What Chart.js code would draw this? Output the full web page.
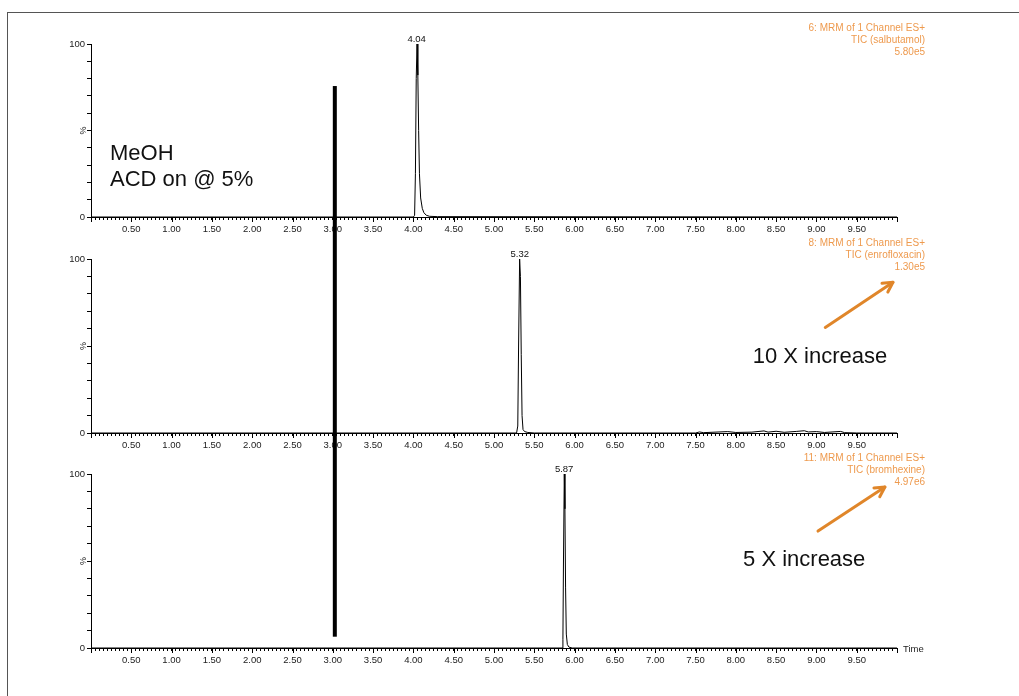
<!DOCTYPE html>
<html>
<head>
<meta charset="utf-8">
<script src="https://cdn.jsdelivr.net/npm/chart.js@4.4.1/dist/chart.umd.min.js"></script>
<style>
  html,body{margin:0;padding:0;background:#fff;}
  #wrap{position:relative;width:1019px;height:696px;overflow:hidden;}
  #frame{position:absolute;left:7px;top:12px;right:-10px;bottom:-10px;border-left:1.5px solid #555;border-top:1.5px solid #555;}
  canvas{position:absolute;left:0;top:0;}
</style>
</head>
<body>
<div id="wrap">
  <div id="frame"></div>
  <canvas id="c1" width="1019" height="696"></canvas>
  <canvas id="c2" width="1019" height="696"></canvas>
  <canvas id="c3" width="1019" height="696"></canvas>
  <canvas id="ov" width="1019" height="696"></canvas>
</div>
<script>
// ---------------- data ----------------
const salbutamolTime = [0.00, 4.000, 4.015, 4.025, 4.035, 4.045, 4.055, 4.065, 4.075, 4.090, 4.110, 4.130, 4.160, 4.200, 4.300, 10.00];
const salbutamolPct  = [0,    0,     1,     25,    80,    100,   82,    50,    25,    11,    5,     2.5,   1,     0.4,   0.2,   0];

const enrofloxacinTime = [0.00, 5.280, 5.295, 5.305, 5.318, 5.328, 5.338, 5.348, 5.360, 5.380, 5.420, 5.500,
                          7.50, 7.55, 7.60, 7.90, 8.00, 8.20, 8.35, 8.40, 8.50, 8.60, 8.75, 8.85, 8.90, 9.00, 9.10, 9.30, 9.35, 9.50, 10.00];
const enrofloxacinPct  = [0,    0,     4,     50,    100,   90,    45,    10,    2,     0.8,   0.3,   0,
                          0,    0.6,  0.2,  0.8,  0.3,  0.5,  1.2,  0.5,  1.0,  0.4,  0.9,  1.3,  0.6,  0.8,  0.3,  0.9,  0.2,  0,    0];

const bromhexineTime = [0.00, 5.845, 5.855, 5.862, 5.872, 5.880, 5.888, 5.897, 5.910, 5.930, 5.970, 10.00];
const bromhexinePct  = [0,    0,     5,     50,    100,   80,    35,    8,     2,     0.5,   0,     0];

const peakTimes  = [4.04, 5.32, 5.87];
const peakLabels = ["4.04", "5.32", "5.87"];
const channelHeaders = [
  ["6: MRM of 1 Channel ES+", "TIC (salbutamol)", "5.80e5"],
  ["8: MRM of 1 Channel ES+", "TIC (enrofloxacin)", "1.30e5"],
  ["11: MRM of 1 Channel ES+", "TIC (bromhexine)", "4.97e6"]
];
const yTickLabels = [0, 100];
const xLabelStep = 0.5;
const timeMin = 0, timeMax = 10;

// ---------------- helpers ----------------
const FONT = "'Liberation Sans', Arial, Helvetica, sans-serif";
const ORANGE_TEXT = '#ee9a4e';
const ORANGE_ARROW = '#e0862a';

const panelTops = [44, 259, 474];
const panelBottoms = [217, 433, 648];

function toPoints(ts, vs){ return ts.map((t,i)=>({x:t, y:vs[i]})); }

function panelPlugin(idx, showTime){
  return {
    id: 'panelDecor' + idx,
    afterDraw(chart){
      const ctx = chart.ctx, xs = chart.scales.x, ys = chart.scales.y, ca = chart.chartArea;
      ctx.save();
      // major x ticks
      ctx.strokeStyle = '#000'; ctx.lineWidth = 1;
      for (let v = timeMin; v <= timeMax + 1e-9; v += xLabelStep){
        const px = Math.round(xs.getPixelForValue(v)) + 0.5;
        ctx.beginPath(); ctx.moveTo(px, ca.bottom); ctx.lineTo(px, ca.bottom + 5); ctx.stroke();
      }
      // % label
      ctx.fillStyle = '#222';
      ctx.font = '9px ' + FONT;
      ctx.translate(ca.left - 7, ys.getPixelForValue(50));
      ctx.rotate(-Math.PI/2);
      ctx.textAlign = 'center'; ctx.textBaseline = 'middle';
      ctx.fillText('%', 0, 0);
      ctx.setTransform(1,0,0,1,0,0);
      // peak label
      ctx.font = '9.5px ' + FONT;
      ctx.fillStyle = '#111';
      ctx.textAlign = 'center'; ctx.textBaseline = 'alphabetic';
      ctx.fillText(peakLabels[idx], xs.getPixelForValue(peakTimes[idx]), ys.getPixelForValue(100) - 2);
      // channel header
      ctx.font = '10px ' + FONT;
      ctx.fillStyle = ORANGE_TEXT;
      ctx.textAlign = 'right';
      const hx = ca.right + 28;
      channelHeaders[idx].forEach((line, k) => {
        ctx.fillText(line, hx, ca.top - 13 + k * 12);
      });
      if (showTime){
        ctx.font = '9.5px ' + FONT;
        ctx.fillStyle = '#222';
        ctx.textAlign = 'left'; ctx.textBaseline = 'middle';
        ctx.fillText('Time', ca.right + 6, ca.bottom + 1);
      }
      ctx.restore();
    }
  };
}

function makePanel(id, idx, ts, vs, showTime){
  const top = panelTops[idx], bottom = panelBottoms[idx];
  return new Chart(document.getElementById(id), {
    type: 'line',
    data: { datasets: [{
      data: toPoints(ts, vs),
      borderColor: '#000', borderWidth: 1, pointRadius: 0, tension: 0, fill: false, clip: 8
    }]},
    options: {
      responsive: false, animation: false, devicePixelRatio: 1,
      layout: { padding: { left: 51, right: 122, top: top, bottom: 696 - bottom - 20 } },
      plugins: { legend: { display: false }, tooltip: { enabled: false } },
      events: [],
      scales: {
        x: {
          type: 'linear', min: timeMin, max: timeMax,
          afterFit: s => { s.height = 20; },
          border: { display: true, color: '#000', width: 1 },
          grid: { drawOnChartArea: false, drawTicks: true, tickLength: 3, color: '#000', lineWidth: 1 },
          ticks: {
            stepSize: 0.05, autoSkip: false, maxRotation: 0, minRotation: 0, padding: 4,
            color: '#222', font: { family: FONT, size: 9.5 },
            callback: v => {
              const r = Math.round(v * 100);
              if (r % Math.round(xLabelStep * 100) === 0 && r > timeMin * 100 && r < timeMax * 100) return (r / 100).toFixed(2);
              return '';
            }
          }
        },
        y: {
          type: 'linear', min: 0, max: 100,
          afterFit: s => { s.width = 40; },
          border: { display: true, color: '#000', width: 1 },
          grid: { drawOnChartArea: false, drawTicks: true, tickLength: 4, color: '#000', lineWidth: 1 },
          ticks: {
            stepSize: 10, padding: 2, color: '#222', font: { family: FONT, size: 9.5 },
            callback: v => yTickLabels.includes(v) ? String(v) : ''
          }
        }
      }
    },
    plugins: [panelPlugin(idx, showTime)]
  });
}

const ch1 = makePanel('c1', 0, salbutamolTime, salbutamolPct, false);
const ch2 = makePanel('c2', 1, enrofloxacinTime, enrofloxacinPct, false);
const ch3 = makePanel('c3', 2, bromhexineTime, bromhexinePct, true);

// ---------------- annotations (data coordinates) ----------------
const markerTime = 3.025, markerTopPct = 75.7, markerBottomPct = 6.5;
const noteLines = [
  { chart: ch1, text: 'MeOH',         t: 0.236, pct: 33.0 },
  { chart: ch1, text: 'ACD on @ 5%',  t: 0.236, pct: 18.0 },
  { chart: ch2, text: '10 X increase', t: 8.21, pct: 40.2 },
  { chart: ch3, text: '5 X increase',  t: 8.09, pct: 47.1 }
];
const arrows = [
  { chart: ch2, t0: 9.11, p0: 60.7, t1: 9.95, p1: 86.6 },
  { chart: ch3, t0: 9.02, p0: 67.2, t1: 9.85, p1: 92.5 }
];

const ov = document.getElementById('ov').getContext('2d');
function px(chart, t, p){ return [chart.scales.x.getPixelForValue(t), chart.scales.y.getPixelForValue(p)]; }

// thick marker line across the panels
const [mx, my0] = px(ch1, markerTime, markerTopPct);
const [, my1] = px(ch3, markerTime, markerBottomPct);
ov.fillStyle = '#000';
ov.fillRect(mx - 2, my0, 4, my1 - my0);

// text notes
ov.fillStyle = '#111';
ov.font = '22px ' + FONT;
ov.textAlign = 'left'; ov.textBaseline = 'alphabetic';
noteLines.forEach(n => { const [x, y] = px(n.chart, n.t, n.pct); ov.fillText(n.text, x, y); });

// arrows
ov.strokeStyle = ORANGE_ARROW; ov.lineWidth = 3; ov.lineCap = 'round'; ov.lineJoin = 'round';
arrows.forEach(a => {
  const [x0, y0] = px(a.chart, a.t0, a.p0);
  const [x1, y1] = px(a.chart, a.t1, a.p1);
  const ang = Math.atan2(y1 - y0, x1 - x0);
  ov.beginPath(); ov.moveTo(x0, y0); ov.lineTo(x1, y1); ov.stroke();
  const L = 11, spread = 0.5;
  ov.beginPath();
  ov.moveTo(x1 - L * Math.cos(ang - spread), y1 - L * Math.sin(ang - spread));
  ov.lineTo(x1, y1);
  ov.lineTo(x1 - L * Math.cos(ang + spread), y1 - L * Math.sin(ang + spread));
  ov.stroke();
});
</script>
</body>
</html>
